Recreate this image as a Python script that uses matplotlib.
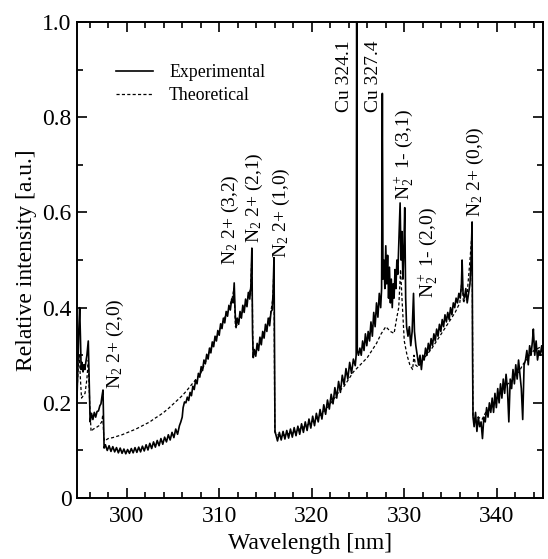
import matplotlib
matplotlib.use("Agg")
import matplotlib.pyplot as plt
from matplotlib.ticker import MultipleLocator, FuncFormatter

plt.rcParams.update({"font.family": "Liberation Serif",
                     "mathtext.fontset": "custom",
                     "mathtext.rm": "Liberation Serif",
                     "mathtext.it": "Liberation Serif:italic"})

# experimental spectrum (wavelength nm, relative intensity)
exp_x = [294.63, 294.72, 294.82, 294.92, 295.00, 295.08, 295.18, 295.28, 295.38, 295.48,
         295.58, 295.70, 295.85, 295.95, 296.05, 296.20, 296.35, 296.50, 296.65, 296.80,
         296.95, 297.10, 297.22, 297.34, 297.44, 297.50, 297.56,
         297.7, 297.9, 298.1, 298.3, 298.5, 298.7, 298.9, 299.1, 299.3, 299.5,
         299.7, 299.9, 300.1, 300.3, 300.5, 300.7, 300.9, 301.1, 301.3, 301.5,
         301.7, 301.9, 302.1, 302.3, 302.5, 302.7, 302.9, 303.1, 303.3, 303.5,
         303.7, 303.9, 304.1, 304.3, 304.5, 304.7, 304.9, 305.1, 305.3, 305.5, 305.7,
         305.85, 306.00, 306.10, 306.25, 306.40, 306.55, 306.70, 306.85, 307.00, 307.15,
         307.30, 307.45, 307.60, 307.75, 307.90, 308.05, 308.20, 308.35, 308.50, 308.65,
         308.80, 308.95, 309.10, 309.25, 309.40, 309.55, 309.70, 309.85, 310.00, 310.15,
         310.30, 310.45, 310.60, 310.75, 310.90, 311.05, 311.20, 311.35, 311.50, 311.62,
         311.72, 311.82, 311.95, 312.10, 312.25, 312.40, 312.55, 312.70, 312.85, 313.00,
         313.15, 313.30, 313.42, 313.53, 313.60, 313.68, 313.80, 313.95, 314.10, 314.25,
         314.40, 314.55, 314.70, 314.85, 315.00, 315.15, 315.30, 315.45, 315.60, 315.72,
         315.82, 315.92, 315.98, 316.03,
         316.1, 316.3, 316.5, 316.7, 316.9, 317.1, 317.3, 317.5, 317.7, 317.9,
         318.1, 318.3, 318.5, 318.7, 318.9, 319.1, 319.3, 319.5, 319.7, 319.9,
         320.1, 320.3, 320.5, 320.7, 320.9, 321.1, 321.3, 321.5, 321.7, 321.9,
         322.1, 322.3, 322.5, 322.7, 322.9, 323.1, 323.3, 323.5, 323.7, 323.9,
         324.1, 324.3, 324.5, 324.7, 324.8, 324.86, 324.92,
         325.05, 325.2, 325.35, 325.5, 325.65, 325.8, 325.95, 326.1, 326.25, 326.4,
         326.55, 326.7, 326.85, 327.0, 327.15, 327.3, 327.45, 327.55, 327.63, 327.7,
         327.8, 327.9, 328.0, 328.1, 328.2, 328.3, 328.4, 328.5, 328.6, 328.7,
         328.8, 328.9, 329.0, 329.1, 329.2, 329.3, 329.42, 329.55, 329.65, 329.75,
         329.85, 329.95, 330.05, 330.15, 330.25, 330.4, 330.55, 330.7, 330.85, 331.0,
         331.1, 331.25, 331.4, 331.55, 331.7, 331.85, 332.0, 332.15, 332.3, 332.45,
         332.6, 332.75, 332.9, 333.05, 333.2, 333.35, 333.5, 333.65, 333.8, 333.95,
         334.1, 334.25, 334.4, 334.55, 334.7, 334.85, 335.0, 335.15, 335.3, 335.45,
         335.6, 335.75, 335.9, 336.05, 336.18, 336.25, 336.35, 336.5, 336.65, 336.8,
         336.95, 337.1, 337.22, 337.33, 337.38, 337.43,
         337.55, 337.7, 337.85, 338.0, 338.15, 338.3, 338.45, 338.6, 338.75, 338.9,
         339.05, 339.2, 339.35, 339.5, 339.65, 339.8, 339.95, 340.1, 340.25, 340.4,
         340.55, 340.7, 340.85, 341.0, 341.15, 341.3, 341.45, 341.6, 341.75, 341.9,
         342.05, 342.2, 342.35, 342.5, 342.65, 342.8, 342.95, 343.1, 343.25, 343.4,
         343.55, 343.7, 343.85, 343.95, 344.1, 344.25, 344.4, 344.55, 344.7, 344.85, 345.0]
exp_y = [0.21, 0.27, 0.35, 0.40, 0.34, 0.27, 0.285, 0.265, 0.28, 0.27,
         0.285, 0.30, 0.33, 0.24, 0.16, 0.178, 0.165, 0.180, 0.170, 0.182,
         0.183, 0.194, 0.198, 0.215, 0.227, 0.16, 0.105,
         0.112, 0.100, 0.110, 0.098, 0.108, 0.097, 0.106, 0.095, 0.105, 0.094,
         0.103, 0.093, 0.102, 0.094, 0.104, 0.095, 0.106, 0.096, 0.107, 0.097,
         0.109, 0.099, 0.112, 0.101, 0.115, 0.104, 0.118, 0.107, 0.121, 0.110,
         0.125, 0.113, 0.128, 0.118, 0.133, 0.122, 0.138, 0.127, 0.145, 0.134, 0.152,
         0.160, 0.170, 0.190, 0.202, 0.200, 0.212, 0.205, 0.222, 0.215, 0.235,
         0.228, 0.248, 0.240, 0.262, 0.254, 0.276, 0.268, 0.290, 0.282, 0.302,
         0.292, 0.315, 0.305, 0.328, 0.318, 0.340, 0.330, 0.352, 0.342, 0.366,
         0.356, 0.378, 0.368, 0.392, 0.382, 0.405, 0.395, 0.418, 0.410, 0.452,
         0.390, 0.358, 0.378, 0.365, 0.392, 0.378, 0.405, 0.390, 0.418, 0.402,
         0.432, 0.418, 0.445, 0.525, 0.350, 0.295, 0.312, 0.298, 0.325, 0.310,
         0.338, 0.322, 0.350, 0.336, 0.365, 0.350, 0.378, 0.362, 0.392, 0.395,
         0.430, 0.505, 0.300, 0.138,
         0.135, 0.120, 0.138, 0.122, 0.140, 0.124, 0.142, 0.126, 0.145, 0.128,
         0.148, 0.131, 0.151, 0.134, 0.156, 0.138, 0.160, 0.142, 0.166, 0.147,
         0.172, 0.152, 0.178, 0.160, 0.186, 0.166, 0.196, 0.176, 0.206, 0.187,
         0.218, 0.198, 0.232, 0.210, 0.245, 0.222, 0.258, 0.238, 0.272, 0.250,
         0.285, 0.262, 0.292, 0.278, 0.300, 1.05, 0.310,
         0.300, 0.315, 0.300, 0.330, 0.310, 0.345, 0.320, 0.350, 0.330, 0.370,
         0.340, 0.390, 0.360, 0.410, 0.380, 0.430, 0.400, 0.440, 0.850, 0.460,
         0.500, 0.440, 0.530, 0.450, 0.510, 0.420, 0.485, 0.410, 0.460, 0.400,
         0.450, 0.420, 0.480, 0.440, 0.500, 0.470, 0.540, 0.620, 0.500, 0.560,
         0.460, 0.520, 0.610, 0.420, 0.360, 0.340, 0.360, 0.320, 0.350, 0.430,
         0.350, 0.320, 0.300, 0.280, 0.300, 0.270, 0.300, 0.290, 0.315, 0.300,
         0.325, 0.310, 0.335, 0.320, 0.345, 0.330, 0.355, 0.340, 0.365, 0.350,
         0.375, 0.360, 0.385, 0.370, 0.390, 0.375, 0.400, 0.385, 0.410, 0.400,
         0.420, 0.410, 0.430, 0.420, 0.450, 0.500, 0.430, 0.420, 0.440, 0.410,
         0.430, 0.450, 0.500, 0.580, 0.300, 0.170,
         0.150, 0.180, 0.140, 0.170, 0.150, 0.160, 0.125, 0.170, 0.160, 0.190,
         0.170, 0.200, 0.180, 0.210, 0.180, 0.220, 0.190, 0.230, 0.200, 0.240,
         0.210, 0.250, 0.220, 0.260, 0.230, 0.160, 0.250, 0.230, 0.270, 0.240,
         0.280, 0.250, 0.290, 0.260, 0.230, 0.165, 0.280, 0.290, 0.310, 0.280,
         0.320, 0.300, 0.330, 0.355, 0.300, 0.330, 0.290, 0.310, 0.300, 0.320, 0.300]

# theoretical spectrum
theo_x = [294.63, 294.75, 294.88, 295.00, 295.12, 295.30, 295.50, 295.70, 295.85, 296.00,
          296.15, 296.40, 296.70, 297.00, 297.30, 297.42, 297.52, 297.60,
          298.0, 298.5, 299.0, 299.5, 300.0, 300.5, 301.0, 301.5, 302.0, 302.5,
          303.0, 303.5, 304.0, 304.5, 305.0, 305.5, 306.0, 306.5, 307.0, 307.6,
          308.0, 308.5, 309.0, 309.5, 310.0, 310.5, 311.0, 311.4, 311.6, 311.75,
          312.0, 312.5, 313.0, 313.4, 313.53, 313.65, 314.0, 314.5, 315.0, 315.5,
          315.8, 315.92, 316.0, 316.5, 317.0, 317.5, 318.0, 318.5, 319.0, 319.5,
          320.0, 320.5, 321.0, 321.5, 322.0, 322.5, 323.0, 323.5, 324.0, 324.5,
          325.0, 325.5, 326.0, 326.5, 327.0, 327.5, 328.0, 328.5, 328.9, 329.2,
          329.4, 329.6, 329.75, 330.0, 330.3, 330.6, 330.9, 331.05, 331.2, 331.5,
          331.8, 332.2, 332.6, 333.0, 333.5, 334.0, 334.5, 335.0, 335.5, 336.0,
          336.25, 336.4, 336.8, 337.1, 337.33, 337.42,
          337.7, 338.0, 338.4, 338.8, 339.2, 339.6, 340.0, 340.4, 340.8, 341.2,
          341.6, 342.0, 342.4, 342.8, 343.2, 343.6, 344.0, 344.5, 345.0]
theo_y = [0.22, 0.27, 0.30, 0.25, 0.21, 0.215, 0.22, 0.25, 0.29, 0.20,
          0.14, 0.145, 0.148, 0.152, 0.160, 0.175, 0.130, 0.120,
          0.125, 0.127, 0.130, 0.133, 0.137, 0.141, 0.145, 0.150, 0.155, 0.160,
          0.167, 0.173, 0.180, 0.188, 0.197, 0.206, 0.215, 0.226, 0.238, 0.252,
          0.262, 0.285, 0.310, 0.330, 0.350, 0.375, 0.395, 0.420, 0.440, 0.360,
          0.365, 0.390, 0.415, 0.440, 0.510, 0.300, 0.305, 0.330, 0.355, 0.380,
          0.420, 0.490, 0.140, 0.130, 0.132, 0.135, 0.138, 0.143, 0.148, 0.153,
          0.160, 0.167, 0.175, 0.186, 0.198, 0.211, 0.225, 0.235, 0.250, 0.265,
          0.275, 0.285, 0.295, 0.310, 0.325, 0.345, 0.360, 0.350, 0.346, 0.380,
          0.400, 0.480, 0.420, 0.330, 0.300, 0.280, 0.270, 0.300, 0.280, 0.275,
          0.285, 0.295, 0.305, 0.315, 0.330, 0.345, 0.360, 0.375, 0.390, 0.410,
          0.460, 0.410, 0.430, 0.500, 0.560, 0.170,
          0.165, 0.170, 0.165, 0.180, 0.185, 0.195, 0.210, 0.220, 0.230, 0.240,
          0.245, 0.260, 0.265, 0.280, 0.290, 0.300, 0.310, 0.315, 0.320]

# band labels: (text, x position, bottom of label)
labels = [(r"N$_2$ 2+ (2,0)", 298.74, 0.23),
          (r"N$_2$ 2+ (3,2)", 311.17, 0.49),
          (r"N$_2$ 2+ (2,1)", 313.80, 0.535),
          (r"N$_2$ 2+ (1,0)", 316.68, 0.504),
          ("Cu 324.1", 323.55, 0.81),
          ("Cu 327.4", 326.68, 0.81),
          (r"N$_2^+$ 1- (3,1)", 329.98, 0.626),
          (r"N$_2^+$ 1- (2,0)", 332.57, 0.42),
          (r"N$_2$ 2+ (0,0)", 337.65, 0.59)]

fig = plt.figure(figsize=(5.48, 5.59), dpi=100)
ax = fig.add_axes([0.1405, 0.109, 0.8505, 0.8516])

ax.plot(exp_x, exp_y, color="black", lw=1.2, label="Experimental")
ax.plot(theo_x, theo_y, color="black", lw=0.9, ls=(0, (2.5, 1.8)), label="Theoretical")

for txt, x, y in labels:
    ax.text(x, y, txt, rotation=90, ha="center", va="bottom", fontsize=14)

ax.set_xlim(294.63, 345.0)
ax.set_ylim(0, 1.0)
ax.xaxis.set_major_locator(MultipleLocator(10))
ax.xaxis.set_minor_locator(MultipleLocator(2))
ax.yaxis.set_major_locator(MultipleLocator(0.2))
ax.yaxis.set_minor_locator(MultipleLocator(0.1))
ax.yaxis.set_major_formatter(FuncFormatter(lambda v, p: "0" if abs(v) < 1e-9 else f"{v:.1f}"))
ax.tick_params(which="both", direction="in", top=True, right=True, labelsize=17, width=1.2)
ax.tick_params(which="major", length=7.5)
ax.tick_params(which="minor", length=4)
ax.tick_params(axis="x", pad=6)
ax.tick_params(axis="y", pad=4)
for s in ax.spines.values():
    s.set_linewidth(1.4)

ax.set_xlabel("Wavelength [nm]", fontsize=17)
ax.set_ylabel("Relative intensity [a.u.]", fontsize=17)

ax.legend(loc="upper left", bbox_to_anchor=(0.083, 0.912), frameon=False, fontsize=12.8,
          handlelength=2.1, handletextpad=0.9, labelspacing=0.35, borderpad=0, borderaxespad=0)

fig.savefig("out.png", dpi=100)
